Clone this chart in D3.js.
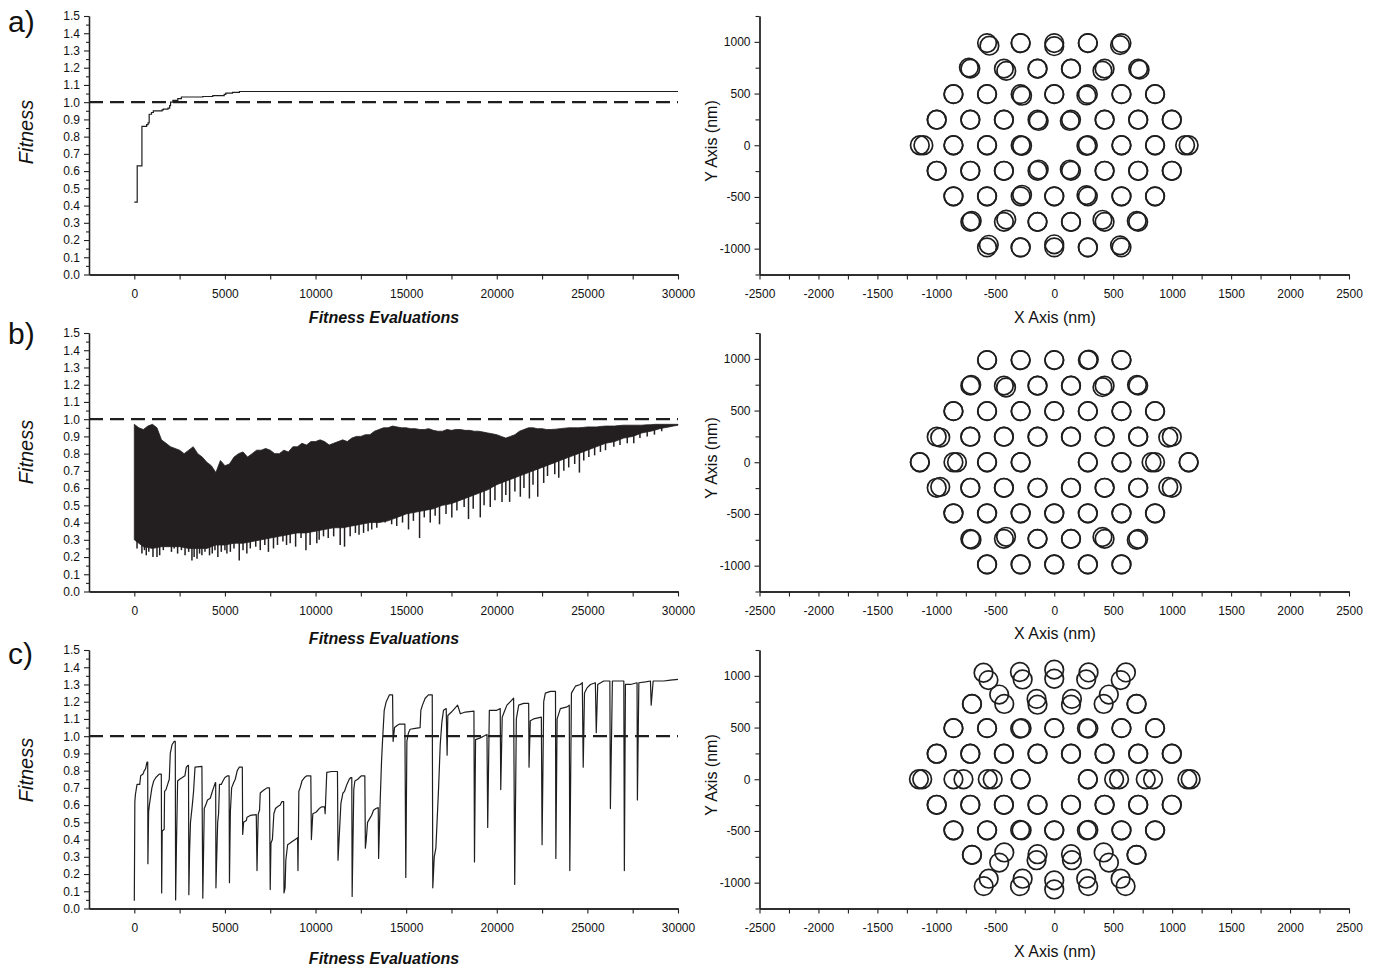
<!DOCTYPE html>
<html><head><meta charset="utf-8">
<script src="https://cdn.jsdelivr.net/npm/d3@7"></script>
<style>
body{margin:0;background:#fff;}
svg{display:block;}
.axis path,.axis line{stroke:#222;}
.axis path{stroke-width:1.3;}
.axis line{stroke-width:1.1;}
.axis text{font-family:"Liberation Sans",Arial,sans-serif;font-size:12px;fill:#111;}
.lbl{font-family:"Liberation Sans",Arial,sans-serif;fill:#111;}
</style></head><body>
<svg id="chart" width="1375" height="969"></svg>
<script>
// ---------------- data ----------------
const panelNames = ["a)", "b)", "c)"];
const evalTicks = [0, 5000, 10000, 15000, 20000, 25000, 30000];
const evalMinorTicks = [2500, 7500, 12500, 17500, 22500, 27500];
const fitTicks = [0.0,0.1,0.2,0.3,0.4,0.5,0.6,0.7,0.8,0.9,1.0,1.1,1.2,1.3,1.4,1.5];
const fitMinorTicks = [0.05,0.15,0.25,0.35,0.45,0.55,0.65,0.75,0.85,0.95,1.05,1.15,1.25,1.35,1.45];
const nmXTicks = [-2500,-2000,-1500,-1000,-500,0,500,1000,1500,2000,2500];
const nmXMinorTicks = [-2250,-1750,-1250,-750,-250,250,750,1250,1750,2250];
const nmYTicks = [-1000,-500,0,500,1000];
const nmYMinorTicks = [-1250,-750,-250,250,750,1250];
const refFitness = 1.0;

// panel a) : best fitness (step curve)
const aEval = [0,160,420,680,760,820,950,1050,1530,1600,1860,1950,2000,2130,2400,2600,3780,4330,4960,5050,5420,5800,30000];
const aFit  = [0.42,0.63,0.86,0.87,0.88,0.93,0.94,0.95,0.955,0.96,0.965,0.98,1.00,1.01,1.02,1.03,1.033,1.038,1.045,1.052,1.057,1.062,1.062];

// panel b) : oscillating fitness band (upper envelope every 250, lower every 500) + deep dips
const bUpperEval = [0,250,500,750,1000,1250,1500,1750,2000,2250,2500,2750,3000,3250,3500,3750,4000,4250,4500,4750,
  5000,5250,5500,5750,6000,6250,6500,6750,7000,7250,7500,7750,8000,8250,8500,8750,9000,9250,9500,9750,
  10000,10250,10500,10750,11000,11250,11500,11750,12000,12250,12500,12750,13000,13250,13500,13750,14000,14250,14500,14750,
  15000,15250,15500,15750,16000,16250,16500,16750,17000,17250,17500,17750,18000,18250,18500,18750,19000,19250,19500,19750,
  20000,20250,20500,20750,21000,21250,21500,21750,22000,22250,22500,22750,23000,23250,23500,23750,24000,24250,24500,24750,
  25000,25250,25500,25750,26000,26250,26500,26750,27000,27250,27500,27750,28000,28250,28500,28750,29000,29250,29500,29750,30000];
const bUpper = [0.97,0.95,0.94,0.96,0.97,0.95,0.88,0.86,0.84,0.83,0.82,0.80,0.82,0.84,0.80,0.78,0.75,0.73,0.69,0.76,
  0.73,0.74,0.78,0.80,0.81,0.78,0.80,0.82,0.82,0.83,0.82,0.80,0.80,0.82,0.81,0.84,0.84,0.86,0.85,0.87,
  0.87,0.88,0.87,0.85,0.86,0.87,0.88,0.87,0.89,0.90,0.90,0.91,0.91,0.93,0.94,0.95,0.95,0.96,0.955,0.95,
  0.95,0.945,0.945,0.94,0.94,0.945,0.935,0.93,0.93,0.94,0.935,0.94,0.94,0.935,0.935,0.93,0.93,0.925,0.92,0.915,
  0.91,0.90,0.89,0.90,0.91,0.93,0.94,0.95,0.95,0.945,0.945,0.94,0.94,0.942,0.945,0.948,0.95,0.95,0.95,0.952,
  0.955,0.955,0.955,0.958,0.96,0.96,0.96,0.963,0.965,0.965,0.965,0.965,0.965,0.967,0.968,0.97,0.97,0.97,0.97,0.97,0.97];
const bLowerEval = [0,500,1000,1500,2000,2500,3000,3500,4000,4500,5000,5500,6000,6500,7000,7500,8000,8500,9000,9500,
  10000,10500,11000,11500,12000,12500,13000,13500,14000,14500,15000,15500,16000,16500,17000,17500,18000,18500,19000,19500,
  20000,20500,21000,21500,22000,22500,23000,23500,24000,24500,25000,25500,26000,26500,27000,27500,28000,28500,29000,29500,30000];
const bLower = [0.30,0.26,0.25,0.26,0.26,0.26,0.25,0.25,0.25,0.27,0.27,0.28,0.28,0.29,0.30,0.31,0.32,0.33,0.34,0.34,
  0.35,0.36,0.37,0.37,0.38,0.39,0.40,0.40,0.41,0.43,0.45,0.46,0.47,0.48,0.50,0.51,0.53,0.55,0.57,0.59,
  0.62,0.64,0.66,0.68,0.70,0.72,0.74,0.76,0.78,0.80,0.82,0.84,0.86,0.87,0.89,0.90,0.92,0.93,0.945,0.955,0.965];
const bDipEval = [150,420,560,660,800,1030,1120,1250,1400,1600,1800,2050,2200,2390,2600,2800,3000,3180,3300,3460,
  3600,3730,3900,4150,4300,4450,4610,4800,5000,5110,5300,5500,5790,6000,6210,6400,6700,6950,7200,7400,
  7680,7900,8200,8400,8600,8900,9200,9470,9700,10070,10200,10440,10700,11000,11360,11600,11910,12200,12400,12650,
  12900,13100,13380,13840,14200,14480,14800,15130,15400,15740,16000,16330,16600,16840,17200,17520,17800,18200,18440,18700,
  19090,19300,19640,19900,20290,20500,20710,21000,21300,21500,21800,22000,22260,22590,22800,23200,23420,23700,23970,24300,
  24560,24800,25080,25400,25720,26000,26460,26800,27200,27560,27900,28300,28700,29100];
const bDipFit = [0.25,0.22,0.24,0.21,0.23,0.20,0.26,0.20,0.21,0.24,0.30,0.23,0.25,0.22,0.24,0.21,0.23,0.18,0.20,0.19,
  0.22,0.21,0.23,0.21,0.22,0.24,0.20,0.23,0.24,0.22,0.23,0.25,0.18,0.24,0.22,0.25,0.26,0.24,0.27,0.23,
  0.25,0.27,0.29,0.27,0.28,0.26,0.31,0.24,0.27,0.28,0.30,0.32,0.31,0.32,0.27,0.26,0.32,0.34,0.33,0.34,
  0.35,0.36,0.37,0.40,0.39,0.38,0.40,0.36,0.41,0.31,0.43,0.40,0.44,0.39,0.45,0.43,0.47,0.49,0.42,0.48,
  0.43,0.50,0.49,0.53,0.52,0.56,0.52,0.58,0.55,0.60,0.54,0.62,0.55,0.63,0.67,0.68,0.66,0.70,0.72,0.74,
  0.69,0.76,0.78,0.79,0.81,0.82,0.84,0.85,0.86,0.86,0.89,0.90,0.91,0.93];

// panel c) : restarts with sawtooth fitness
const cEval = [0,30,60,150,300,350,480,550,620,700,740,750,790,830,970,1070,1190,1280,1380,1490,1510,1540,1650,1670,1750,1840,1930,1985,2080,2200,2260,2280,2320,2390,2500,2650,2790,2870,2960,2990,
  3010,3050,3100,3200,3270,3350,3730,3780,3860,3940,4040,4190,4280,4370,4470,4490,4505,4540,4600,4650,4700,4800,4890,5000,5150,5230,5250,5300,5370,5480,
  5570,5680,5790,5960,5980,6030,6180,6220,6400,6730,6770,6800,6840,6910,6950,7060,7190,7320,7460,7500,7540,7620,7700,7790,7900,8050,8140,8240,8260,8320,
  8360,8460,8600,8730,8880,9010,9030,9080,9150,9250,9390,9520,9740,9770,9850,10040,10200,10350,10500,10530,10620,10900,11210,11240,11400,11510,11600,11730,11860,11950,
  12000,12020,12110,12170,12330,12430,12520,12720,12750,12800,12870,12980,13090,13200,13330,13460,13480,13560,13640,13700,13790,13900,13990,14080,14250,14280,14360,14480,14630,14930,
  14980,15040,15130,15220,15500,15770,15810,15900,16050,16230,16440,16470,16550,16640,16790,16880,16970,17060,17210,17260,17300,17500,17840,17990,18260,18740,18770,18830,19090,19270,
  19460,19500,19590,20000,20190,20220,20300,20410,20560,20750,20930,20990,21080,21210,21480,21760,21780,21850,22030,22460,22500,22590,22680,22960,23240,23260,23330,23510,23880,24000,
  24030,24120,24340,24610,24720,24770,24840,24980,25170,25440,25490,25570,25900,26240,26270,26380,27010,27040,27100,27380,27740,27760,27840,28210,28480,28520,28630,29220,29580,30000];
const cFit = [0.045,0.62,0.66,0.72,0.72,0.77,0.78,0.80,0.81,0.85,0.85,0.26,0.56,0.60,0.70,0.74,0.76,0.77,0.78,0.78,0.09,0.45,0.46,0.68,0.69,0.72,0.75,0.90,0.95,0.97,0.97,0.05,0.33,0.74,0.75,0.76,0.77,0.82,0.83,0.83,
  0.08,0.33,0.50,0.60,0.68,0.82,0.825,0.06,0.58,0.60,0.63,0.64,0.67,0.70,0.73,0.73,0.12,0.27,0.50,0.55,0.72,0.72,0.74,0.76,0.77,0.77,0.15,0.56,0.70,0.73,
  0.75,0.80,0.82,0.82,0.43,0.50,0.51,0.53,0.54,0.545,0.22,0.38,0.55,0.57,0.67,0.68,0.69,0.70,0.70,0.11,0.38,0.40,0.55,0.58,0.59,0.60,0.62,0.62,0.09,0.12,
  0.28,0.37,0.38,0.39,0.40,0.41,0.22,0.68,0.70,0.74,0.76,0.77,0.77,0.40,0.55,0.56,0.58,0.59,0.59,0.55,0.79,0.795,0.795,0.28,0.61,0.67,0.68,0.72,0.75,0.76,
  0.76,0.07,0.69,0.74,0.75,0.76,0.77,0.77,0.35,0.40,0.50,0.52,0.54,0.57,0.58,0.585,0.29,0.60,0.85,0.98,1.15,1.20,1.22,1.24,1.24,0.97,1.05,1.06,1.07,1.07,
  0.18,0.97,1.02,1.04,1.045,1.05,1.15,1.18,1.22,1.24,1.24,0.12,0.30,0.35,0.70,0.95,1.08,1.15,1.16,0.89,1.12,1.14,1.18,1.13,1.14,1.145,0.27,0.98,0.99,1.00,
  1.01,0.47,1.15,1.15,1.16,0.69,1.11,1.14,1.18,1.20,1.22,0.14,1.10,1.18,1.19,1.19,0.82,1.09,1.10,1.11,0.37,1.20,1.25,1.26,1.26,0.29,1.10,1.16,1.17,1.18,
  0.22,1.25,1.29,1.30,1.31,0.82,1.25,1.28,1.30,1.31,1.02,1.30,1.32,1.32,0.58,1.32,1.32,0.22,1.30,1.30,1.31,0.63,1.31,1.315,1.32,1.18,1.32,1.32,1.325,1.33];

// photonic-crystal hole lattice (nm), rows top to bottom
const holeRowY = [988, 741, 494, 247, 0, -247, -494, -741, -988];
const holeRowX = [
  [-570,-285,0,285,570],
  [-712,-427,-142,142,427,712],
  [-855,-570,-285,0,285,570,855],
  [-997,-712,-427,-142,142,427,712,997],
  [-1140,-855,-570,-285,285,570,855,1140],
  [-997,-712,-427,-142,142,427,712,997],
  [-855,-570,-285,0,285,570,855],
  [-712,-427,-142,142,427,712],
  [-570,-285,0,285,570]
];
// hole shifts [row, col, dxA, dyA, dxB, dyB] (nm)
const aShift = [
  [0,0,0,0,20,-25],[0,2,0,0,0,-30],[0,4,0,0,-12,-20],
  [1,0,0,0,-12,10],[1,1,0,0,20,-22],[1,4,0,0,-18,-20],[1,5,0,0,12,-10],
  [2,2,0,0,12,-15],[2,4,0,0,-12,-12],
  [3,3,0,0,10,-12],[3,4,0,0,-10,-12],
  [4,0,0,0,30,0],[4,3,0,0,12,-5],[4,4,0,0,-12,-5],[4,7,0,0,-30,0],
  [5,3,0,0,10,12],[5,4,0,0,-10,12],
  [6,2,0,0,12,15],[6,4,0,0,-12,12],
  [7,0,0,0,12,10],[7,1,0,0,20,22],[7,4,0,0,-18,20],[7,5,0,0,-12,10],
  [8,0,0,0,15,25],[8,2,0,0,0,30],[8,4,0,0,-12,20]
];
const bShift = [
  [0,3,0,0,8,5],
  [1,0,0,0,8,8],[1,1,0,0,18,-18],[1,4,0,0,-18,-15],[1,5,0,0,-10,8],
  [3,0,0,0,30,-8],[3,7,0,0,-30,-8],
  [4,1,0,0,30,0],[4,6,0,0,-30,0],
  [5,0,0,0,30,8],[5,7,0,0,-30,8],
  [7,0,0,0,10,-8],[7,1,0,0,18,20],[7,4,0,0,-18,18],[7,5,0,0,-12,-10]
];
const cShift = [
  [0,0,-30,42,12,-29],[0,1,-6,49,17,-23],[0,2,0,72,0,-16],[0,3,6,45,-14,-23],[0,4,38,45,-6,-29],
  [1,0,14,-13,14,-13],[1,1,-40,78,3,-13],[1,2,-8,36,0,-20],[1,3,8,36,0,-20],[1,4,36,78,-8,-13],[1,5,-14,-13,-14,-13],
  [2,2,8,0,-4,-4],[2,4,-8,0,4,-4],
  [4,0,-8,0,20,0],[4,1,0,0,85,0],[4,2,6,0,48,0],[4,5,-62,0,-20,0],[4,6,-79,0,-17,0],[4,7,-11,0,17,0],
  [6,2,8,0,-4,4],[6,4,-8,0,4,4],
  [7,0,14,10,14,10],[7,1,3,33,-40,-65],[7,2,0,16,-8,-42],[7,3,0,16,8,-42],[7,4,-8,33,37,-65],[7,5,-14,10,-14,10],
  [8,0,14,26,-28,-46],[8,1,17,26,-6,-46],[8,2,0,10,0,-78],[8,3,-14,26,3,-46],[8,4,-7,26,35,-46]
];
const panelShifts = [aShift, bShift, cShift];

// ---------------- drawing ----------------
const svg = d3.select("#chart");
const ink = "#1e1e1e";
const panelTops = [16, 333, 650];
const panelH = 258.5;
const letterBase = [32, 344, 664];
const fitLabelY = [132, 452, 770];
const evalLabelBase = [323, 644, 964];
const nmLabelBase = [323, 639, 957];
const plainNum = d => String(d);

const xEval = d3.scaleLinear().domain([-2500, 30000]).range([89, 678]);
const xNm = d3.scaleLinear().domain([-2500, 2500]).range([759.5, 1349]);

panelTops.forEach((top, p) => {
  const yFit = d3.scaleLinear().domain([0, 1.5]).range([top + panelH, top]);
  const yNm = d3.scaleLinear().domain([-1250, 1250]).range([top + panelH, top]);
  const bottom = top + panelH;

  // --- left fitness panel axes ---
  const gL = svg.append("g");
  gL.append("g").attr("class","axis").attr("transform",`translate(0,${bottom})`)
    .call(d3.axisBottom(xEval).tickValues(evalMinorTicks).tickFormat("").tickSize(5).tickSizeOuter(0));
  gL.append("g").attr("class","axis").attr("transform",`translate(0,${bottom})`)
    .call(d3.axisBottom(xEval).tickValues(evalTicks).tickFormat(plainNum).tickSize(5).tickPadding(10).tickSizeOuter(0));
  gL.append("g").attr("class","axis").attr("transform",`translate(${xEval.range()[0]},0)`)
    .call(d3.axisLeft(yFit).tickValues(fitMinorTicks).tickFormat("").tickSize(3).tickSizeOuter(0));
  gL.append("g").attr("class","axis").attr("transform",`translate(${xEval.range()[0]},0)`)
    .call(d3.axisLeft(yFit).tickValues(fitTicks).tickFormat(d3.format(".1f")).tickSize(5).tickPadding(4).tickSizeOuter(0));

  if (p === 0) {
    const pts = aEval.map((e,i)=>[e, aFit[i]]);
    gL.append("path").datum(pts)
      .attr("d", d3.line().x(d=>xEval(d[0])).y(d=>yFit(d[1])).curve(d3.curveStepAfter))
      .attr("fill","none").attr("stroke",ink).attr("stroke-width",1.2);
  } else if (p === 1) {
    const lowAt = e => {
      const i = Math.min(d3.bisectRight(bLowerEval, e) - 1, bLowerEval.length - 2);
      const t = (e - bLowerEval[i]) / (bLowerEval[i+1] - bLowerEval[i]);
      return bLower[i] + t * (bLower[i+1] - bLower[i]);
    };
    const pts = bUpperEval.map((e,i)=>({e, u:bUpper[i], l:lowAt(e)}));
    gL.append("path").datum(pts)
      .attr("d", d3.area().x(d=>xEval(d.e)).y0(d=>yFit(d.l)).y1(d=>yFit(d.u)))
      .attr("fill","#231f20").attr("stroke","#231f20").attr("stroke-width",0.8);
    gL.append("g").selectAll("line").data(bDipEval.map((e,i)=>({e, f:bDipFit[i]})))
      .join("line")
      .attr("x1", d=>xEval(d.e)).attr("x2", d=>xEval(d.e))
      .attr("y1", d=>yFit(lowAt(d.e) + 0.01)).attr("y2", d=>yFit(d.f))
      .attr("stroke","#231f20").attr("stroke-width",1.5);
  } else {
    const pts = cEval.map((e,i)=>[e, cFit[i]]);
    gL.append("path").datum(pts)
      .attr("d", d3.line().x(d=>xEval(d[0])).y(d=>yFit(d[1])))
      .attr("fill","none").attr("stroke",ink).attr("stroke-width",1.2).attr("stroke-linejoin","round");
  }

  // reference dashed line
  gL.append("path").datum([[-2500, refFitness],[30000, refFitness]])
    .attr("d", d3.line().x(d=>xEval(d[0])).y(d=>yFit(d[1])))
    .attr("stroke", ink).attr("stroke-width", 2.4).attr("stroke-dasharray","14,7").attr("fill","none");

  // labels
  svg.append("text").attr("class","lbl").attr("x", 8).attr("y", letterBase[p])
    .attr("font-size", 30).text(panelNames[p]);
  svg.append("text").attr("class","lbl")
    .attr("transform", `translate(33,${fitLabelY[p]}) rotate(-90)`)
    .attr("text-anchor","middle").attr("font-size",20).attr("font-style","italic").text("Fitness");
  svg.append("text").attr("class","lbl").attr("x", 384).attr("y", evalLabelBase[p])
    .attr("text-anchor","middle").attr("font-size",16).attr("font-style","italic").attr("font-weight","bold")
    .text("Fitness Evaluations");

  // --- right lattice panel ---
  const gR = svg.append("g");
  gR.append("g").attr("class","axis").attr("transform",`translate(0,${bottom})`)
    .call(d3.axisBottom(xNm).tickValues(nmXMinorTicks).tickFormat("").tickSize(5).tickSizeOuter(0));
  gR.append("g").attr("class","axis").attr("transform",`translate(0,${bottom})`)
    .call(d3.axisBottom(xNm).tickValues(nmXTicks).tickFormat(plainNum).tickSize(5).tickPadding(10).tickSizeOuter(0));
  gR.append("g").attr("class","axis").attr("transform",`translate(${xNm.range()[0]},0)`)
    .call(d3.axisLeft(yNm).tickValues(nmYMinorTicks).tickFormat("").tickSize(4).tickSizeOuter(0));
  gR.append("g").attr("class","axis").attr("transform",`translate(${xNm.range()[0]},0)`)
    .call(d3.axisLeft(yNm).tickValues(nmYTicks).tickFormat(plainNum).tickSize(5).tickPadding(4).tickSizeOuter(0));

  svg.append("text").attr("class","lbl").attr("x", 1055).attr("y", nmLabelBase[p])
    .attr("text-anchor","middle").attr("font-size",16).text("X Axis (nm)");
  svg.append("text").attr("class","lbl")
    .attr("transform", `translate(717,${top + 125}) rotate(-90)`)
    .attr("text-anchor","middle").attr("font-size",16).text("Y Axis (nm)");

  // holes
  const shiftMap = new Map(panelShifts[p].map(s => [s[0]+","+s[1], s]));
  const circles = [];
  holeRowY.forEach((yv, r) => {
    holeRowX[r].forEach((xv, c) => {
      const s = shiftMap.get(r+","+c) || [r,c,0,0,0,0];
      circles.push({x: xv + s[2], y: yv + s[3]});
      circles.push({x: xv + s[4], y: yv + s[5]});
    });
  });
  gR.append("g").selectAll("circle").data(circles).join("circle")
    .attr("cx", d=>xNm(d.x)).attr("cy", d=>yNm(d.y)).attr("r", 9.3)
    .attr("fill","none").attr("stroke", ink).attr("stroke-width", 1.7);
});
</script>
</body></html>
